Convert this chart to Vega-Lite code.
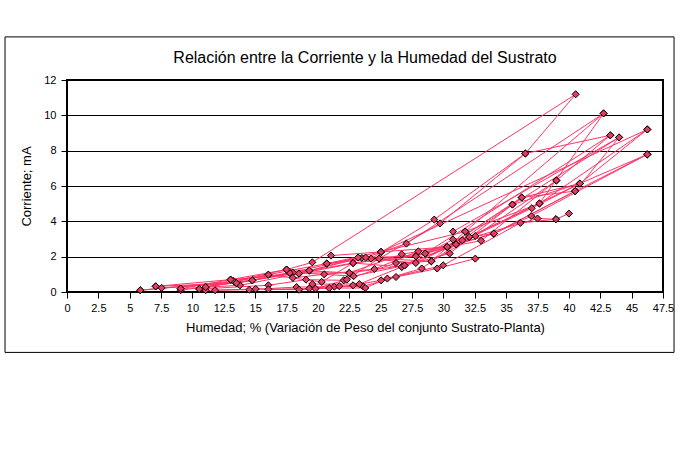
{
  "$schema": "https://vega.github.io/schema/vega-lite/v6.json",
  "width": 596,
  "height": 212,
  "autosize": {"type": "none"},
  "padding": {"left": 67, "top": 80, "right": 17, "bottom": 162},
  "background": "white",
  "title": {
    "text": "Relación entre la Corriente y la Humedad del Sustrato",
    "font": "Liberation Sans",
    "fontSize": 16,
    "fontWeight": "normal",
    "color": "black",
    "anchor": "middle",
    "frame": "group",
    "offset": -30
  },
  "config": {
    "font": "Liberation Sans",
    "view": {"stroke": "black", "strokeWidth": 2},
    "axis": {
      "domain": false,
      "tickColor": "black",
      "tickSize": 6,
      "labelOverlap": false,
      "labelFlush": false,
      "labelColor": "black",
      "labelFont": "Liberation Sans",
      "labelFontSize": 11,
      "titleColor": "black",
      "titleFont": "Liberation Sans",
      "titleFontSize": 13,
      "titleFontWeight": "normal"
    }
  },
  "resolve": {"axis": {"x": "independent", "y": "independent"}},
  "datasets": {
    "mediciones": [
      {"ciclo": 1, "orden": 1, "humedad": 7.07, "corriente": 0.32},
      {"ciclo": 1, "orden": 2, "humedad": 13.04, "corriente": 0.70},
      {"ciclo": 1, "orden": 3, "humedad": 17.5, "corriente": 1.27},
      {"ciclo": 1, "orden": 4, "humedad": 19.55, "corriente": 1.68},
      {"ciclo": 1, "orden": 5, "humedad": 40.54, "corriente": 11.19},
      {"ciclo": 1, "orden": 6, "humedad": 36.53, "corriente": 7.84},
      {"ciclo": 1, "orden": 7, "humedad": 29.27, "corriente": 4.10},
      {"ciclo": 1, "orden": 8, "humedad": 24.23, "corriente": 1.89},
      {"ciclo": 1, "orden": 9, "humedad": 20.7, "corriente": 1.61},
      {"ciclo": 2, "orden": 1, "humedad": 5.84, "corriente": 0.10},
      {"ciclo": 2, "orden": 2, "humedad": 13.28, "corriente": 0.62},
      {"ciclo": 2, "orden": 3, "humedad": 17.76, "corriente": 1.08},
      {"ciclo": 2, "orden": 4, "humedad": 22.5, "corriente": 1.08},
      {"ciclo": 2, "orden": 5, "humedad": 26.68, "corriente": 2.14},
      {"ciclo": 2, "orden": 6, "humedad": 30.3, "corriente": 2.55},
      {"ciclo": 2, "orden": 7, "humedad": 36.24, "corriente": 5.35},
      {"ciclo": 2, "orden": 8, "humedad": 40.5, "corriente": 5.71},
      {"ciclo": 2, "orden": 9, "humedad": 46.25, "corriente": 7.79},
      {"ciclo": 3, "orden": 1, "humedad": 7.54, "corriente": 0.23},
      {"ciclo": 3, "orden": 2, "humedad": 13.5, "corriente": 0.50},
      {"ciclo": 3, "orden": 3, "humedad": 18.0, "corriente": 1.10},
      {"ciclo": 3, "orden": 4, "humedad": 22.85, "corriente": 0.90},
      {"ciclo": 3, "orden": 5, "humedad": 26.9, "corriente": 1.50},
      {"ciclo": 3, "orden": 6, "humedad": 30.5, "corriente": 2.18},
      {"ciclo": 3, "orden": 7, "humedad": 35.5, "corriente": 4.95},
      {"ciclo": 3, "orden": 8, "humedad": 40.88, "corriente": 6.14},
      {"ciclo": 3, "orden": 9, "humedad": 46.25, "corriente": 9.20},
      {"ciclo": 3, "orden": 10, "humedad": 25.03, "corriente": 2.27},
      {"ciclo": 4, "orden": 1, "humedad": 9.06, "corriente": 0.19},
      {"ciclo": 4, "orden": 2, "humedad": 13.79, "corriente": 0.38},
      {"ciclo": 4, "orden": 3, "humedad": 18.49, "corriente": 1.04},
      {"ciclo": 4, "orden": 4, "humedad": 23.2, "corriente": 1.95},
      {"ciclo": 4, "orden": 5, "humedad": 27.8, "corriente": 2.02},
      {"ciclo": 4, "orden": 6, "humedad": 31.0, "corriente": 2.70},
      {"ciclo": 4, "orden": 7, "humedad": 37.04, "corriente": 4.74},
      {"ciclo": 4, "orden": 8, "humedad": 40.88, "corriente": 6.14},
      {"ciclo": 5, "orden": 1, "humedad": 9.06, "corriente": 0.10},
      {"ciclo": 5, "orden": 2, "humedad": 14.77, "corriente": 0.66},
      {"ciclo": 5, "orden": 3, "humedad": 19.31, "corriente": 1.21},
      {"ciclo": 5, "orden": 4, "humedad": 23.5, "corriente": 1.93},
      {"ciclo": 5, "orden": 5, "humedad": 27.8, "corriente": 1.64},
      {"ciclo": 5, "orden": 6, "humedad": 32.06, "corriente": 3.12},
      {"ciclo": 5, "orden": 7, "humedad": 37.65, "corriente": 5.01},
      {"ciclo": 5, "orden": 8, "humedad": 42.77, "corriente": 10.11},
      {"ciclo": 5, "orden": 9, "humedad": 27.05, "corriente": 2.74},
      {"ciclo": 5, "orden": 10, "humedad": 23.8, "corriente": 1.95},
      {"ciclo": 6, "orden": 1, "humedad": 10.54, "corriente": 0.17},
      {"ciclo": 6, "orden": 2, "humedad": 16.05, "corriente": 0.38},
      {"ciclo": 6, "orden": 3, "humedad": 19.05, "corriente": 0.70},
      {"ciclo": 6, "orden": 4, "humedad": 22.05, "corriente": 0.66},
      {"ciclo": 6, "orden": 5, "humedad": 26.22, "corriente": 1.64},
      {"ciclo": 6, "orden": 6, "humedad": 29.04, "corriente": 1.74},
      {"ciclo": 6, "orden": 7, "humedad": 32.54, "corriente": 3.17},
      {"ciclo": 6, "orden": 8, "humedad": 39.0, "corriente": 6.31},
      {"ciclo": 6, "orden": 9, "humedad": 43.3, "corriente": 8.87},
      {"ciclo": 6, "orden": 10, "humedad": 28.55, "corriente": 2.18},
      {"ciclo": 7, "orden": 1, "humedad": 11.05, "corriente": 0.28},
      {"ciclo": 7, "orden": 2, "humedad": 16.05, "corriente": 0.98},
      {"ciclo": 7, "orden": 3, "humedad": 20.3, "corriente": 0.57},
      {"ciclo": 7, "orden": 4, "humedad": 22.8, "corriente": 1.64},
      {"ciclo": 7, "orden": 5, "humedad": 26.68, "corriente": 1.42},
      {"ciclo": 7, "orden": 6, "humedad": 30.76, "corriente": 2.97},
      {"ciclo": 7, "orden": 7, "humedad": 34.03, "corriente": 3.31},
      {"ciclo": 7, "orden": 8, "humedad": 40.5, "corriente": 5.71},
      {"ciclo": 7, "orden": 9, "humedad": 44.0, "corriente": 8.75},
      {"ciclo": 7, "orden": 10, "humedad": 30.76, "corriente": 3.42},
      {"ciclo": 8, "orden": 1, "humedad": 11.05, "corriente": 0.10},
      {"ciclo": 8, "orden": 2, "humedad": 14.53, "corriente": 0.13},
      {"ciclo": 8, "orden": 3, "humedad": 18.3, "corriente": 0.28},
      {"ciclo": 8, "orden": 4, "humedad": 21.3, "corriente": 0.30},
      {"ciclo": 8, "orden": 5, "humedad": 23.6, "corriente": 0.32},
      {"ciclo": 8, "orden": 6, "humedad": 26.22, "corriente": 0.85},
      {"ciclo": 8, "orden": 7, "humedad": 29.5, "corriente": 1.33},
      {"ciclo": 8, "orden": 8, "humedad": 32.54, "corriente": 1.89},
      {"ciclo": 9, "orden": 1, "humedad": 11.8, "corriente": 0.10},
      {"ciclo": 9, "orden": 2, "humedad": 15.04, "corriente": 0.17},
      {"ciclo": 9, "orden": 3, "humedad": 18.5, "corriente": 0.13},
      {"ciclo": 9, "orden": 4, "humedad": 20.9, "corriente": 0.22},
      {"ciclo": 9, "orden": 5, "humedad": 23.77, "corriente": 0.23},
      {"ciclo": 9, "orden": 6, "humedad": 25.53, "corriente": 0.76},
      {"ciclo": 9, "orden": 7, "humedad": 29.98, "corriente": 1.51},
      {"ciclo": 9, "orden": 8, "humedad": 36.13, "corriente": 3.91},
      {"ciclo": 9, "orden": 9, "humedad": 38.97, "corriente": 4.12},
      {"ciclo": 9, "orden": 10, "humedad": 40.0, "corriente": 4.44},
      {"ciclo": 10, "orden": 1, "humedad": 16.05, "corriente": 0.15},
      {"ciclo": 10, "orden": 2, "humedad": 19.31, "corriente": 0.20},
      {"ciclo": 10, "orden": 3, "humedad": 21.7, "corriente": 0.33},
      {"ciclo": 10, "orden": 4, "humedad": 22.8, "corriente": 0.38},
      {"ciclo": 10, "orden": 5, "humedad": 25.03, "corriente": 0.66},
      {"ciclo": 10, "orden": 6, "humedad": 28.27, "corriente": 1.33},
      {"ciclo": 10, "orden": 7, "humedad": 31.5, "corriente": 2.93},
      {"ciclo": 10, "orden": 8, "humedad": 37.5, "corriente": 4.16},
      {"ciclo": 10, "orden": 9, "humedad": 38.97, "corriente": 4.12},
      {"ciclo": 11, "orden": 1, "humedad": 19.8, "corriente": 0.19},
      {"ciclo": 11, "orden": 2, "humedad": 22.3, "corriente": 0.70},
      {"ciclo": 11, "orden": 3, "humedad": 24.87, "corriente": 1.89},
      {"ciclo": 11, "orden": 4, "humedad": 29.73, "corriente": 3.88},
      {"ciclo": 11, "orden": 5, "humedad": 36.53, "corriente": 7.84},
      {"ciclo": 11, "orden": 6, "humedad": 43.3, "corriente": 8.87},
      {"ciclo": 12, "orden": 1, "humedad": 19.55, "corriente": 0.45},
      {"ciclo": 12, "orden": 2, "humedad": 23.3, "corriente": 0.45},
      {"ciclo": 12, "orden": 3, "humedad": 26.68, "corriente": 1.42},
      {"ciclo": 12, "orden": 4, "humedad": 30.3, "corriente": 2.55},
      {"ciclo": 12, "orden": 5, "humedad": 33.0, "corriente": 2.9},
      {"ciclo": 12, "orden": 6, "humedad": 39.0, "corriente": 6.31},
      {"ciclo": 13, "orden": 1, "humedad": 21.04, "corriente": 2.06},
      {"ciclo": 13, "orden": 2, "humedad": 25.03, "corriente": 2.27},
      {"ciclo": 13, "orden": 3, "humedad": 31.74, "corriente": 3.42},
      {"ciclo": 13, "orden": 4, "humedad": 42.77, "corriente": 10.11},
      {"ciclo": 14, "orden": 1, "humedad": 18.0, "corriente": 0.8},
      {"ciclo": 14, "orden": 2, "humedad": 20.5, "corriente": 1.0},
      {"ciclo": 14, "orden": 3, "humedad": 24.5, "corriente": 1.3},
      {"ciclo": 14, "orden": 4, "humedad": 28.0, "corriente": 2.3},
      {"ciclo": 14, "orden": 5, "humedad": 31.0, "corriente": 2.7},
      {"ciclo": 14, "orden": 6, "humedad": 34.0, "corriente": 3.3},
      {"ciclo": 14, "orden": 7, "humedad": 37.0, "corriente": 4.3},
      {"ciclo": 14, "orden": 8, "humedad": 46.25, "corriente": 7.79},
      {"ciclo": 15, "orden": 1, "humedad": 5.84, "corriente": 0.10},
      {"ciclo": 15, "orden": 2, "humedad": 14.77, "corriente": 0.66},
      {"ciclo": 15, "orden": 3, "humedad": 19.31, "corriente": 1.21},
      {"ciclo": 15, "orden": 4, "humedad": 22.8, "corriente": 1.64},
      {"ciclo": 15, "orden": 5, "humedad": 27.8, "corriente": 2.02},
      {"ciclo": 15, "orden": 6, "humedad": 32.06, "corriente": 3.12},
      {"ciclo": 15, "orden": 7, "humedad": 40.88, "corriente": 6.14},
      {"ciclo": 15, "orden": 8, "humedad": 46.25, "corriente": 7.79},
      {"ciclo": 16, "orden": 1, "humedad": 9.06, "corriente": 0.19},
      {"ciclo": 16, "orden": 2, "humedad": 13.04, "corriente": 0.70},
      {"ciclo": 16, "orden": 3, "humedad": 18.49, "corriente": 1.04},
      {"ciclo": 16, "orden": 4, "humedad": 24.87, "corriente": 1.89},
      {"ciclo": 16, "orden": 5, "humedad": 28.55, "corriente": 2.18},
      {"ciclo": 16, "orden": 6, "humedad": 34.03, "corriente": 3.31},
      {"ciclo": 16, "orden": 7, "humedad": 40.5, "corriente": 5.71},
      {"ciclo": 17, "orden": 1, "humedad": 10.54, "corriente": 0.17},
      {"ciclo": 17, "orden": 2, "humedad": 16.05, "corriente": 0.98},
      {"ciclo": 17, "orden": 3, "humedad": 20.7, "corriente": 1.61},
      {"ciclo": 17, "orden": 4, "humedad": 25.03, "corriente": 2.27},
      {"ciclo": 17, "orden": 5, "humedad": 30.3, "corriente": 2.55},
      {"ciclo": 17, "orden": 6, "humedad": 36.24, "corriente": 5.35},
      {"ciclo": 17, "orden": 7, "humedad": 40.88, "corriente": 6.14},
      {"ciclo": 18, "orden": 1, "humedad": 7.07, "corriente": 0.32},
      {"ciclo": 18, "orden": 2, "humedad": 13.5, "corriente": 0.50},
      {"ciclo": 18, "orden": 3, "humedad": 17.76, "corriente": 1.08},
      {"ciclo": 18, "orden": 4, "humedad": 23.2, "corriente": 1.95},
      {"ciclo": 18, "orden": 5, "humedad": 29.04, "corriente": 1.74},
      {"ciclo": 18, "orden": 6, "humedad": 31.74, "corriente": 3.42},
      {"ciclo": 18, "orden": 7, "humedad": 37.65, "corriente": 5.01},
      {"ciclo": 18, "orden": 8, "humedad": 46.25, "corriente": 9.20},
      {"ciclo": 19, "orden": 1, "humedad": 11.05, "corriente": 0.28},
      {"ciclo": 19, "orden": 2, "humedad": 17.5, "corriente": 1.27},
      {"ciclo": 19, "orden": 3, "humedad": 22.5, "corriente": 1.08},
      {"ciclo": 19, "orden": 4, "humedad": 26.9, "corriente": 1.50},
      {"ciclo": 19, "orden": 5, "humedad": 31.0, "corriente": 2.70},
      {"ciclo": 19, "orden": 6, "humedad": 35.5, "corriente": 4.95},
      {"ciclo": 19, "orden": 7, "humedad": 44.0, "corriente": 8.75}
    ]
  },
  "layer": [
    {
      "data": {"values": [{}]},
      "mark": {"type": "rect", "fill": null, "stroke": "black", "strokeWidth": 1, "clip": false},
      "encoding": {
        "x": {"datum": -4.94, "type": "quantitative", "axis": null},
        "x2": {"datum": 48.38},
        "y": {"datum": 14.44, "type": "quantitative", "axis": null},
        "y2": {"datum": -3.42}
      }
    },
    {
      "data": {"name": "mediciones"},
      "mark": {"type": "line", "color": "#FF3366", "strokeWidth": 1},
      "encoding": {
        "x": {
          "field": "humedad",
          "type": "quantitative",
          "scale": {"domain": [0, 47.5], "nice": false, "zero": false},
          "axis": {
            "title": "Humedad; % (Variación de Peso del conjunto Sustrato-Planta)",
            "values": [0, 2.5, 5, 7.5, 10, 12.5, 15, 17.5, 20, 22.5, 25, 27.5, 30, 32.5, 35, 37.5, 40, 42.5, 45, 47.5],
            "labelExpr": "'' + datum.value",
            "grid": false,
            "labelPadding": 4,
            "titlePadding": 8
          }
        },
        "y": {
          "field": "corriente",
          "type": "quantitative",
          "scale": {"domain": [0, 12], "nice": false},
          "axis": {
            "title": "Corriente; mA",
            "values": [0, 2, 4, 6, 8, 10, 12],
            "grid": true,
            "gridColor": "black",
            "gridOpacity": 1,
            "gridWidth": 1,
            "labelPadding": 5,
            "titlePadding": 10
          }
        },
        "detail": {"field": "ciclo", "type": "nominal"},
        "order": {"field": "orden", "type": "quantitative"}
      }
    },
    {
      "data": {"name": "mediciones"},
      "mark": {"type": "point", "shape": "diamond", "filled": true, "fill": "#E63C64", "stroke": "black", "strokeWidth": 1, "size": 50, "opacity": 1},
      "encoding": {
        "x": {"field": "humedad", "type": "quantitative", "axis": null},
        "y": {"field": "corriente", "type": "quantitative", "axis": null}
      }
    }
  ]
}
